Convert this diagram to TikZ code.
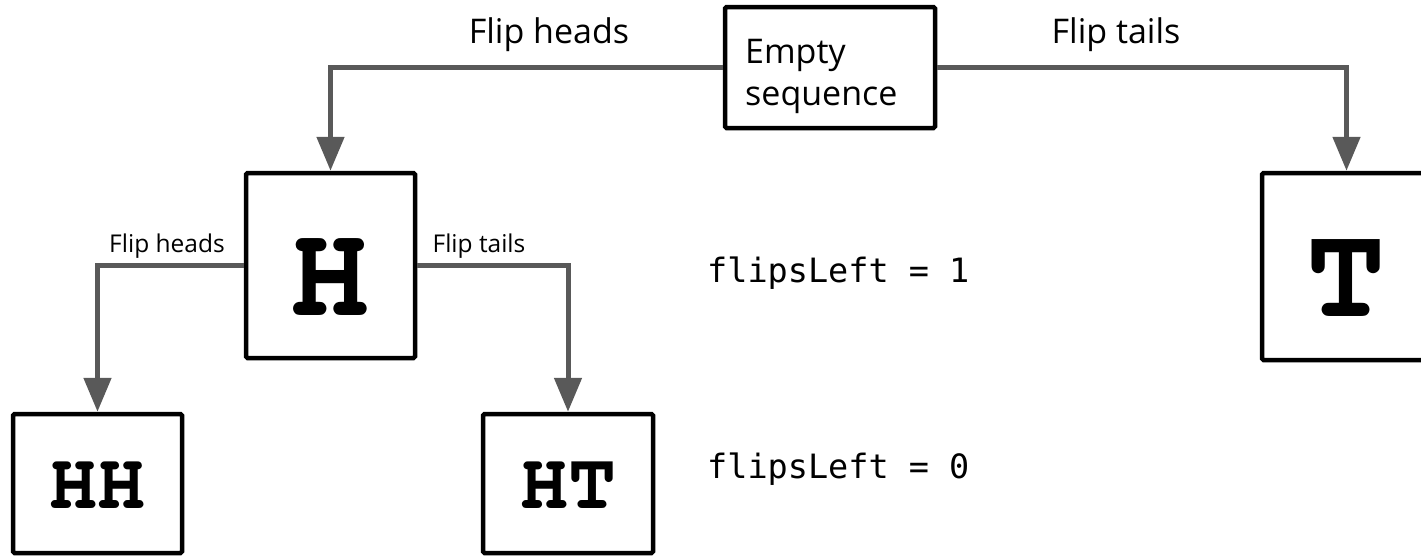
\documentclass[tikz,border=0pt]{standalone}
\usepackage[T1]{fontenc}
\usepackage{fontspec}
\setmainfont{Open Sans}
\newfontfamily\codefont{DejaVu Sans Mono}
\newcommand\courbold{\fontencoding{T1}\fontfamily{pcr}\fontseries{b}\fontshape{n}}
\usetikzlibrary{arrows.meta}
\definecolor{conn}{HTML}{595959}
\tikzset{
  box/.style={draw=black, line width=4.5pt, rounded corners=1.5pt, fill=white, inner sep=0pt},
  bigletter/.style={font=\courbold\fontsize{132}{132}\selectfont, text height=100pt, text depth=0pt},
  smallletter/.style={font=\courbold\fontsize{80}{80}\selectfont, text height=49pt, text depth=0pt},
  conn/.style={draw=conn, line width=5pt, -{Triangle[width=27pt,length=34pt]}},
  biglab/.style={font=\fontsize{34}{40}\selectfont, anchor=base, inner sep=0pt},
  smalllab/.style={font=\fontsize{24.5}{29}\selectfont, anchor=base, inner sep=0pt},
  code/.style={font=\codefont\fontsize{33.5}{40}\selectfont, anchor=base west, inner sep=0pt},
  boxtext/.style={font=\fontsize{34}{40}\selectfont, anchor=base west, inner sep=0pt},
}
\begin{document}
\begin{tikzpicture}[x=1pt,y=-1pt]
\useasboundingbox (0,0) rectangle (1421,555);
% boxes
\node[box, minimum width=210pt, minimum height=121pt] (e) at (830,67.5) {};
\node[boxtext] (et1) at (745,63) {Empty};
\node[boxtext] (et2) at (745,105) {sequence};
\node[box, bigletter, minimum width=169pt, minimum height=185pt] (h) at (330.5,265.5) {H};
\node[box, bigletter, minimum width=169pt, minimum height=187pt] (t) at (1346.5,266.5) {T};
\node[box, smallletter, minimum width=169pt, minimum height=139pt] (hh) at (97.5,483.5) {HH};
\node[box, smallletter, minimum width=170pt, minimum height=139pt] (ht) at (568,483.5) {HT};
% connectors
\draw[conn] (e.west) -| (h.north);
\draw[conn] (e.east) -| (t.north);
\draw[conn] (h.west) -| (hh.north);
\draw[conn] (h.east) -| (ht.north);
% labels
\node[biglab] (l1) at (549,43) {Flip heads};
\node[biglab] (l2) at (1116,43) {Flip tails};
\node[smalllab] (l3) at (167,252) {Flip heads};
\node[smalllab] (l4) at (479,252) {Flip tails};
\node[code] (f1) at (707,282) {flipsLeft = 1};
\node[code] (f0) at (707,478) {flipsLeft = 0};
\end{tikzpicture}
\end{document}
